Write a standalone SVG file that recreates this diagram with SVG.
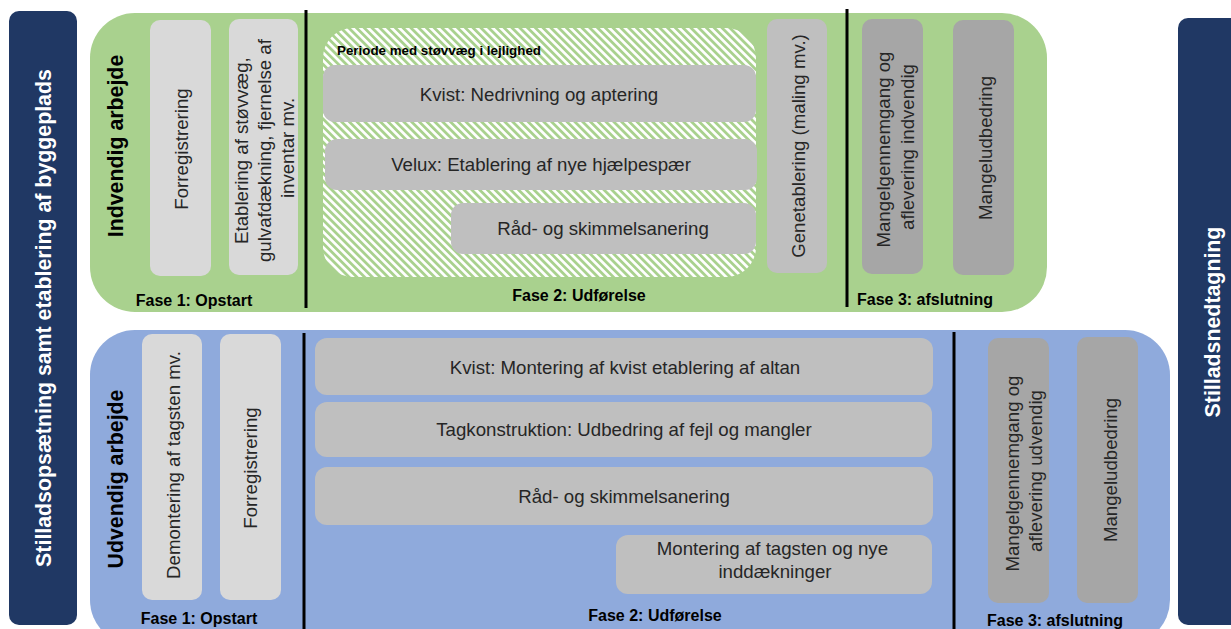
<svg xmlns="http://www.w3.org/2000/svg" width="1231" height="629" viewBox="0 0 1231 629">
<defs>
<pattern id="hatch" width="5.5" height="5.5" patternUnits="userSpaceOnUse" patternTransform="rotate(45)">
<rect width="5.5" height="2.7" fill="#ffffff"/>
</pattern>
<style>
text{font-family:"Liberation Sans",Arial,Helvetica,sans-serif;}
.t{font-size:18.67px;fill:#262626;text-anchor:middle;}
.h{font-size:21.33px;font-weight:bold;fill:#000;text-anchor:middle;}
.w{font-size:21.33px;font-weight:bold;fill:#fff;text-anchor:middle;}
.f{font-size:16px;font-weight:bold;fill:#000;text-anchor:middle;}
.p{font-size:13.33px;font-weight:bold;fill:#000;}
.g1{fill:#d9d9d9;}
.g2{fill:#bfbfbf;}
.g3{fill:#a6a6a6;}
.div{stroke:#000;stroke-width:3;}
</style>
</defs>
<rect width="1231" height="629" fill="#fff"/>

<g id="bar-left">
<rect x="9" y="11" width="68" height="614" rx="10" fill="#203864"/>
<text class="w" transform="translate(43,318) rotate(-90)" x="0" y="7.5">Stilladsopsætning samt etablering af byggeplads</text>
</g>
<g id="bar-right">
<rect x="1178" y="18" width="70" height="607" rx="10" fill="#203864"/>
<text class="w" transform="translate(1212,322) rotate(-90)" x="0" y="7.5">Stilladsnedtagning</text>
</g>

<g id="indvendig">
<rect x="90" y="13" width="957" height="299" rx="45" fill="#a9d18e"/>
<rect x="323" y="28" width="433" height="249" rx="30" fill="url(#hatch)"/>
<text class="h" transform="translate(115,146) rotate(-90)" x="0" y="7.5">Indvendig arbejde</text>
<text class="f" x="194" y="306">Fase 1: Opstart</text>
<text class="f" x="579" y="301">Fase 2: Udførelse</text>
<text class="f" x="925" y="305">Fase 3: afslutning</text>
<text class="p" x="337" y="55" textLength="204" lengthAdjust="spacingAndGlyphs">Periode med støvvæg i lejlighed</text>
</g>

<g id="udvendig">
<rect x="90" y="330" width="1080" height="315" rx="45" fill="#8faadc"/>
<text class="h" transform="translate(115,479) rotate(-90)" x="0" y="7.5">Udvendig arbejde</text>
<text class="f" x="199" y="624">Fase 1: Opstart</text>
<text class="f" x="655" y="621">Fase 2: Udførelse</text>
<text class="f" x="1055" y="626">Fase 3: afslutning</text>
</g>

<g id="connectors">
<line class="div" x1="306" y1="10" x2="306" y2="308"/>
<line class="div" x1="847" y1="9" x2="847" y2="307"/>
<line class="div" x1="304" y1="333" x2="304" y2="629"/>
<line class="div" x1="954" y1="332" x2="954" y2="629"/>
</g>

<g id="in-forregistrering">
<rect class="g1" x="150" y="20" width="61" height="256" rx="10"/>
<text class="t" transform="translate(181,149) rotate(-90)" x="0" y="6.5">Forregistrering</text>
</g>
<g id="in-etablering">
<rect class="g1" x="229" y="19" width="69" height="256" rx="10"/>
<text class="t" transform="translate(264,148) rotate(-90)">
<tspan x="0" y="-16.5">Etablering af støvvæg,</tspan>
<tspan x="0" y="6.5">gulvafdækning, fjernelse af</tspan>
<tspan x="0" y="29.5">inventar mv.</tspan>
</text>
</g>
<g id="in-kvist">
<rect class="g2" x="323" y="65" width="433" height="57" rx="12"/>
<text class="t" x="539" y="101">Kvist: Nedrivning og aptering</text>
</g>
<g id="in-velux">
<rect class="g2" x="325" y="139" width="432" height="51" rx="12"/>
<text class="t" x="541" y="171">Velux: Etablering af nye hjælpespær</text>
</g>
<g id="in-raad">
<rect class="g2" x="451" y="203" width="305" height="51" rx="12"/>
<text class="t" x="603" y="235">Råd- og skimmelsanering</text>
</g>
<g id="in-genetablering">
<rect class="g2" x="767" y="19" width="60" height="254" rx="10"/>
<text class="t" transform="translate(798,146) rotate(-90)" x="0" y="6.5">Genetablering (maling mv.)</text>
</g>
<g id="in-mangelgennemgang">
<rect class="g3" x="862" y="19" width="61" height="255" rx="10"/>
<text class="t" transform="translate(895,147) rotate(-90)">
<tspan x="0" y="-5.5">Mangelgennemgang og</tspan>
<tspan x="0" y="18.5">aflevering indvendig</tspan>
</text>
</g>
<g id="in-mangeludbedring">
<rect class="g3" x="953" y="20" width="61" height="255" rx="10"/>
<text class="t" transform="translate(985,148) rotate(-90)" x="0" y="6.5">Mangeludbedring</text>
</g>

<g id="ud-demontering">
<rect class="g1" x="142" y="334" width="60" height="266" rx="10"/>
<text class="t" transform="translate(173,465) rotate(-90)" x="0" y="6.5">Demontering af tagsten mv.</text>
</g>
<g id="ud-forregistrering">
<rect class="g1" x="220" y="334" width="61" height="266" rx="10"/>
<text class="t" transform="translate(250,468) rotate(-90)" x="0" y="6.5">Forregistrering</text>
</g>
<g id="ud-kvist">
<rect class="g2" x="315" y="338" width="618" height="57" rx="12"/>
<text class="t" x="625" y="374">Kvist: Montering af kvist etablering af altan</text>
</g>
<g id="ud-tagkonstruktion">
<rect class="g2" x="315" y="402" width="617" height="55" rx="12"/>
<text class="t" x="624" y="436">Tagkonstruktion: Udbedring af fejl og mangler</text>
</g>
<g id="ud-raad">
<rect class="g2" x="315" y="467" width="618" height="58" rx="12"/>
<text class="t" x="624" y="503">Råd- og skimmelsanering</text>
</g>
<g id="ud-montering">
<rect class="g2" x="616" y="535" width="316" height="59" rx="12"/>
<text class="t">
<tspan x="775" y="555">Montering af tagsten og nye</tspan>
<tspan x="775" y="578">inddækninger</tspan>
</text>
</g>
<g id="ud-mangelgennemgang">
<rect class="g3" x="988" y="338" width="61" height="265" rx="10"/>
<text class="t" transform="translate(1023.5,471) rotate(-90)">
<tspan x="0" y="-5">Mangelgennemgang og</tspan>
<tspan x="0" y="18">aflevering udvendig</tspan>
</text>
</g>
<g id="ud-mangeludbedring">
<rect class="g3" x="1077" y="337" width="61" height="266" rx="10"/>
<text class="t" transform="translate(1110,470) rotate(-90)" x="0" y="6.5">Mangeludbedring</text>
</g>
</svg>
